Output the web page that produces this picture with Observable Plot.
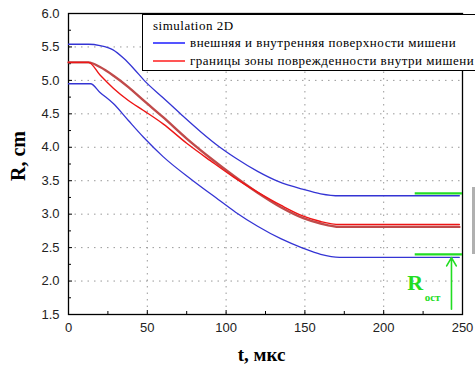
<!DOCTYPE html>
<html>
<head>
<meta charset="utf-8">
<script src="https://cdn.jsdelivr.net/npm/d3@7"></script>
<script src="https://cdn.jsdelivr.net/npm/@observablehq/plot@0.6"></script>
<style>
  html, body { margin: 0; padding: 0; background: #fff; overflow: hidden; }
  #wrap { position: relative; width: 475px; height: 367px; overflow: hidden; }
  #legend { position: absolute; left: 142px; top: 14px; width: 360px; height: 55px;
    border: 1.5px solid #000; background: #fff; font-family: "Liberation Serif", "DejaVu Serif", serif;
    font-size: 13px; letter-spacing: 0.5px; color: #000; }
  #legend .row { position: absolute; left: 10px; height: 15px; line-height: 15px; white-space: nowrap; }
  #legend .sw { display: inline-block; width: 32px; height: 2px; vertical-align: middle; margin-right: 5px; position: relative; top: -1px; }
  #grey { position: absolute; left: 472px; top: 187px; width: 4px; height: 67px; background: #b0b0b0; }
</style>
</head>
<body>
<div id="wrap">
  <div id="chart"></div>
  <div id="legend"></div>
  <div id="grey"></div>
</div>
<script>
// Time axis (мкс)
const tOuter = [0, 12.7, 20, 28, 35, 42, 48, 60, 72, 84, 95, 106, 120, 133, 149, 160, 172, 248];
const rOuter = [5.54, 5.54, 5.52, 5.46, 5.33, 5.16, 5.00, 4.74, 4.48, 4.23, 4.02, 3.84, 3.64, 3.49, 3.37, 3.305, 3.275, 3.275];

const tInner = [0, 14, 20, 28.6, 38, 47.6, 60, 79, 95, 106, 120, 135, 149, 160, 172, 248];
const rInner = [4.95, 4.95, 4.82, 4.65, 4.40, 4.15, 3.86, 3.50, 3.22, 3.03, 2.82, 2.63, 2.49, 2.40, 2.355, 2.355];

const tRed = [0, 12.7, 20, 28.6, 38, 47.6, 60, 75, 90, 105, 120, 135, 149, 160, 172, 248];
const rRedA = [5.27, 5.27, 5.20, 5.07, 4.90, 4.70, 4.45, 4.13, 3.84, 3.57, 3.32, 3.10, 2.94, 2.86, 2.81, 2.81];
const rRedB = [5.27, 5.27, 5.08, 4.88, 4.70, 4.55, 4.35, 4.06, 3.80, 3.55, 3.33, 3.13, 2.97, 2.89, 2.845, 2.845];

const greenLevels = [3.31, 2.40];
const greenFrom = 220, greenTo = 250;
const arrowT = 243, arrowFrom = 1.58, arrowTo = 2.35;
const labelR = {t: 220, r: 1.97, text: "R"};
const labelSub = {t: 231, r: 1.75, text: "ост"};

const xTicks = [0, 50, 100, 150, 200, 250];
const xMinor = [25, 75, 125, 175, 225];
const yTicks = [1.5, 2.0, 2.5, 3.0, 3.5, 4.0, 4.5, 5.0, 5.5, 6.0];
const yMinor = [1.75, 2.25, 2.75, 3.25, 3.75, 4.25, 4.75, 5.25, 5.75];

const legendTitle = "simulation 2D";
const legendItems = ["внешняя и внутренняя поверхности мишени", "границы зоны поврежденности внутри мишени"];
const legendColors = ["#5555ff", "#ff5555"];
const xTitle = "t, мкс";
const yTitle = "R, cm";

const toPts = (ts, rs) => ts.map((t, i) => ({t, r: rs[i]}));
const blue = "#3434d4";
const green = "#22dd22";

const chart = Plot.plot({
  width: 475, height: 367,
  marginLeft: 68, marginRight: 13, marginTop: 13, marginBottom: 53,
  style: {background: "#fff", fontFamily: "'Liberation Sans', Arial, sans-serif", fontSize: "13px", overflow: "visible"},
  x: {domain: [0, 250], label: null},
  y: {domain: [1.5, 6], label: null},
  marks: [
    Plot.gridX(xTicks.slice(1, -1), {stroke: "#999", strokeOpacity: 1, strokeDasharray: "1.5,5"}),
    Plot.gridY(yTicks.slice(1, -1), {stroke: "#999", strokeOpacity: 1, strokeDasharray: "1.5,5"}),
    Plot.axisX(xTicks, {tickSize: -4, text: null, label: null}),
    Plot.axisX(xMinor, {tickSize: -3, text: null, label: null}),
    Plot.axisX(xTicks, {tickSize: 0, tickPadding: 8, tickFormat: d => String(d), fill: "#222", label: null}),
    Plot.axisY(yTicks, {tickSize: -4, text: null, label: null}),
    Plot.axisY(yMinor, {tickSize: -3, text: null, label: null}),
    Plot.axisY(yTicks, {tickSize: 0, tickPadding: 9, tickFormat: d => d.toFixed(1), fill: "#222", label: null}),
    Plot.frame({stroke: "#000", strokeWidth: 1.3}),
    Plot.line(toPts(tOuter, rOuter), {x: "t", y: "r", stroke: blue, strokeWidth: 1.3, curve: "monotone-x"}),
    Plot.line(toPts(tInner, rInner), {x: "t", y: "r", stroke: blue, strokeWidth: 1.3, curve: "monotone-x"}),
    Plot.line(toPts(tRed, rRedA), {x: "t", y: "r", stroke: "#c04a4a", strokeWidth: 2.4, curve: "monotone-x"}),
    Plot.line(toPts(tRed, rRedB), {x: "t", y: "r", stroke: "#ee1515", strokeWidth: 1.4, curve: "monotone-x"}),
    Plot.ruleY(greenLevels, {x1: greenFrom, x2: greenTo, stroke: green, strokeWidth: 2.2}),
    Plot.arrow([{t: arrowT, a: arrowFrom, b: arrowTo}], {x1: "t", x2: "t", y1: "a", y2: "b", stroke: green, strokeWidth: 1.6, headLength: 9}),
    Plot.text([labelR], {x: "t", y: "r", text: "text", fill: green, fontSize: 22, fontWeight: "bold", fontFamily: "'Liberation Serif', serif"}),
    Plot.text([labelSub], {x: "t", y: "r", text: "text", fill: green, fontSize: 11, fontWeight: "bold", fontFamily: "'Liberation Serif', serif", letterSpacing: "1px"}),
    Plot.text([xTitle], {frameAnchor: "bottom", dy: 46, dx: -4, fontSize: 19, fontWeight: "bold", fontFamily: "'Liberation Serif', serif", fill: "#000", letterSpacing: "1px"}),
    Plot.text([yTitle], {frameAnchor: "left", rotate: -90, dx: -50, dy: 17, fontSize: 20, fontWeight: "bold", fontFamily: "'Liberation Serif', serif", fill: "#000", letterSpacing: "1px"})
  ]
});
document.getElementById("chart").appendChild(chart);

const lg = document.getElementById("legend");
const r0 = document.createElement("div");
r0.className = "row"; r0.style.top = "3px"; r0.textContent = legendTitle;
lg.appendChild(r0);
legendItems.forEach((txt, i) => {
  const r = document.createElement("div");
  r.className = "row";
  r.style.top = (20 + i * 18) + "px";
  const sw = document.createElement("span");
  sw.className = "sw"; sw.style.background = legendColors[i];
  r.appendChild(sw);
  r.appendChild(document.createTextNode(txt));
  lg.appendChild(r);
});
</script>
</body>
</html>
